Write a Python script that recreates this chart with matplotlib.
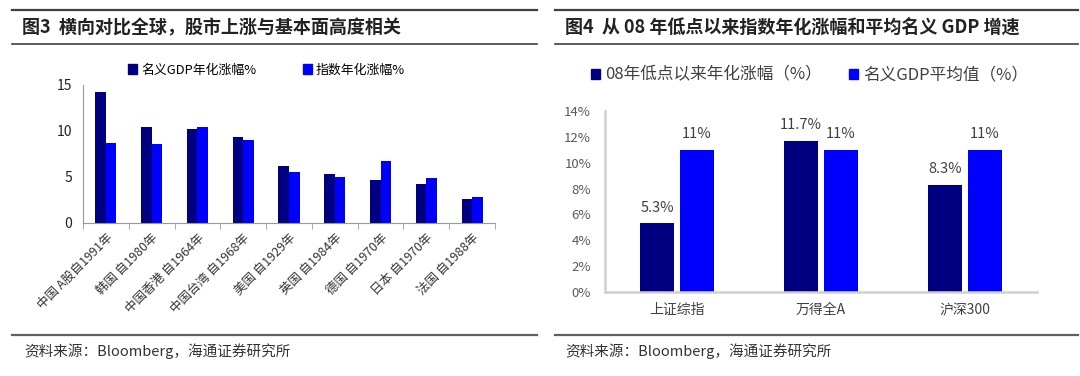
import matplotlib.pyplot as plt
import numpy as np
from matplotlib.lines import Line2D
from matplotlib.patches import Patch

plt.rcParams['font.family'] = ['Noto Sans CJK SC', 'DejaVu Sans']

# left chart data
countries = ['中国 A股自1991年', '韩国 自1980年', '中国香港 自1964年', '中国台湾 自1968年',
             '美国 自1929年', '英国 自1984年', '德国 自1970年', '日本 自1970年', '法国 自1988年']
gdp_growth = [14.2, 10.45, 10.25, 9.35, 6.15, 5.3, 4.65, 4.2, 2.6]
index_growth = [8.7, 8.6, 10.45, 9.05, 5.5, 4.95, 6.7, 4.85, 2.8]

# right chart data
indices = ['上证综指', '万得全A', '沪深300']
since08 = [5.3, 11.7, 8.3]
gdp_avg = [11, 11, 11]
since08_labels = ['5.3%', '11.7%', '8.3%']
gdp_labels = ['11%', '11%', '11%']

navy = '#000080'
blue = '#0000FF'

fig = plt.figure(figsize=(10.8, 3.76), dpi=100)

def hline(y, x0, x1, lw, color='#404040'):
    fig.add_artist(Line2D([x0 / 1080, x1 / 1080], [1 - y / 376, 1 - y / 376],
                          lw=lw, color=color, transform=fig.transFigure))

# frame lines and titles
for x0, x1 in [(12, 537), (555, 1078)]:
    hline(10, x0, x1, 1.6)
    hline(44, x0, x1, 1.2)
    hline(335, x0, x1, 1.6, '#606060')

fig.text(22 / 1080, 1 - 28 / 376, '图3  横向对比全球，股市上涨与基本面高度相关',
         fontsize=13, fontweight='bold', va='center', color='#222222')
fig.text(565 / 1080, 1 - 28 / 376, '图4  从 08 年低点以来指数年化涨幅和平均名义 GDP 增速',
         fontsize=13, fontweight='bold', va='center', color='#222222')
for x in [24, 565]:
    fig.text(x / 1080, 1 - 351 / 376, '资料来源：Bloomberg，海通证券研究所',
             fontsize=10.5, va='center', color='#333333')

# ---- left chart
ax1 = fig.add_axes([83 / 1080, 1 - 223 / 376, 412 / 1080, 138 / 376])
x = np.arange(len(countries))
w = 0.23
ax1.bar(x - w / 2, gdp_growth, w, color=navy)
ax1.bar(x + w / 2, index_growth, w, color=blue)
ax1.set_xlim(-0.5, len(countries) - 0.5)
ax1.set_ylim(0, 15)
ax1.set_yticks([0, 5, 10, 15])
ax1.tick_params(axis='y', length=0, labelsize=10, labelcolor='#222222', pad=8)
ax1.set_xticks(x)
ax1.set_xticklabels(countries, rotation=45, ha='right', rotation_mode='anchor',
                    fontsize=9, color='#333333')
ax1.tick_params(axis='x', which='major', length=0, pad=6)
ax1.set_xticks(np.arange(-0.5, len(countries), 1), minor=True)
ax1.tick_params(axis='x', which='minor', length=4, color='#999999', direction='out')
for s in ['top', 'right']:
    ax1.spines[s].set_visible(False)
for s in ['left', 'bottom']:
    ax1.spines[s].set_color('#999999')
handles1 = [Patch(color=navy), Patch(color=blue)]
ax1.legend(handles1, ['名义GDP年化涨幅%', '指数年化涨幅%'], loc='center left',
           bbox_to_anchor=(128 / 1080, 1 - 70 / 376), bbox_transform=fig.transFigure,
           ncol=2, frameon=False, fontsize=9.3, handlelength=0.7, handleheight=0.7,
           handletextpad=0.3, columnspacing=3.6, borderaxespad=0, borderpad=0)

# ---- right chart
ax2 = fig.add_axes([605 / 1080, 1 - 292 / 376, 432 / 1080, 181 / 376])
x2 = np.arange(len(indices))
w2 = 0.23
off = 0.139
b1 = ax2.bar(x2 - off, since08, w2, color=navy)
b2 = ax2.bar(x2 + off, gdp_avg, w2, color=blue)
for rect, lab in zip(b1, since08_labels):
    ax2.annotate(lab, (rect.get_x() + rect.get_width() / 2, rect.get_height()),
                 xytext=(0, 6), textcoords='offset points', ha='center', va='bottom',
                 fontsize=10.5, color='#404040')
for rect, lab in zip(b2, gdp_labels):
    ax2.annotate(lab, (rect.get_x() + rect.get_width() / 2, rect.get_height()),
                 xytext=(0, 6), textcoords='offset points', ha='center', va='bottom',
                 fontsize=10.5, color='#404040')
ax2.set_xlim(-0.5, len(indices) - 0.5)
ax2.set_ylim(0, 14)
ax2.set_yticks(np.arange(0, 15, 2))
ax2.set_yticklabels([f'{v}%' for v in range(0, 15, 2)])
ax2.tick_params(axis='y', length=0, labelsize=9.5, labelcolor='#595959', pad=10)
ax2.set_xticks(x2)
ax2.set_xticklabels(indices, fontsize=10, color='#404040')
ax2.tick_params(axis='x', length=0, pad=8)
for s in ['top', 'right']:
    ax2.spines[s].set_visible(False)
for s in ['left', 'bottom']:
    ax2.spines[s].set_color('#d0d0d0')
    ax2.spines[s].set_linewidth(1.8)
handles2 = [Patch(color=navy), Patch(color=blue)]
ax2.legend(handles2, ['08年低点以来年化涨幅（%）', '名义GDP平均值（%）'], loc='center left',
           bbox_to_anchor=(591 / 1080, 1 - 75 / 376), bbox_transform=fig.transFigure,
           ncol=2, frameon=False, fontsize=12, handlelength=0.55, handleheight=0.55,
           handletextpad=0.3, columnspacing=1.6, borderaxespad=0, borderpad=0,
           labelcolor='#404040')

fig.savefig('out.png', dpi=100)
